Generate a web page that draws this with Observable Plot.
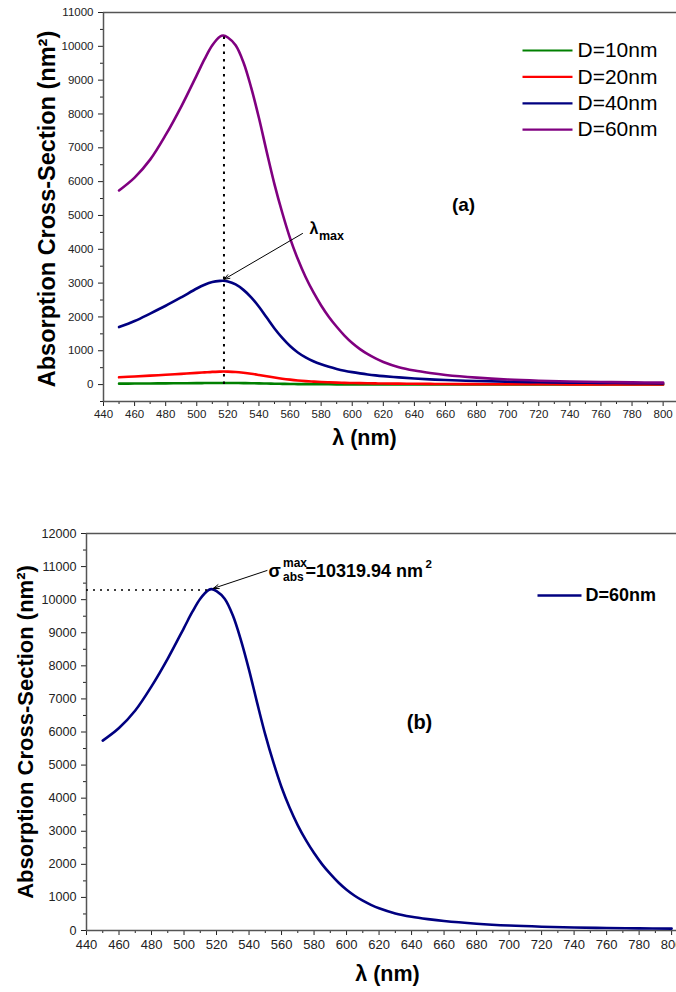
<!DOCTYPE html>
<html>
<head>
<meta charset="utf-8">
<script src="https://cdn.jsdelivr.net/npm/d3@7"></script>
<script src="https://cdn.jsdelivr.net/npm/@observablehq/plot@0.6"></script>
<style>
  body { margin: 0; background: #fff; }
  #chart { width: 676px; height: 992px; position: relative; }
  #chart svg { display: block; }
</style>
</head>
<body>
<div id="chart"></div>
<script>
// ---------- Data ----------
const lambda   = [450,460,470,480,490,500,505,510,515,517,520,525,530,535,540,545,550,555,560,565,570,575,580,585,590,595,600,605,610,615,620,630,640,650,660,680,700,720,740,760,780,800];
const sigmaD10 = [27,30,33,36,40,43,45,47,48,48,48,46,44,40,36,31,26,22,18,15,13,11,9.5,8.4,7.4,6.6,5.9,5.3,4.8,4.4,4,3.4,2.9,2.5,2.1,1.6,1.3,1.1,0.9,0.8,0.7,0.6];
const sigmaD20 = [215,240,265,290,318,345,360,375,383,385,382,370,348,320,285,248,210,175,146,122,103,88,76,67,59,52,47,42,38,35,32,27,23,20,17,13,11,9,7,6,5,5];
const sigmaD40 = [1700,1880,2100,2330,2580,2840,2950,3030,3065,3070,3050,2960,2800,2580,2300,1980,1660,1380,1140,950,805,690,600,525,462,410,368,332,300,273,250,212,180,155,135,105,85,70,58,50,43,37];
const sigmaD60 = [5740,6120,6650,7380,8220,9150,9620,10030,10290,10320,10260,10030,9530,8780,7880,6880,5920,5080,4330,3710,3180,2730,2340,2000,1710,1450,1230,1050,900,775,670,515,415,343,285,205,150,115,92,76,65,57];
const seriesNames = ["D=10nm","D=20nm","D=40nm","D=60nm"];
const seriesColors = ["#008000","#ff0000","#000080","#800080"];
const seriesValues = [sigmaD10, sigmaD20, sigmaD40, sigmaD60];
const xTicks = d3.range(440, 801, 20);
const yTicksA = d3.range(0, 11001, 1000);
const yTicksB = d3.range(0, 12001, 1000);
const lambdaMax = 517.5;          // position of the dotted line in (a)
const peakD40 = 3070;
const peakD60 = 10320;
const sigmaMaxText = "=10319.94 nm";

// ---------- Helpers ----------
const FONT = "'Liberation Sans', Arial, Helvetica, sans-serif";
const fmt = d3.format("d");
const rowsA = seriesNames.flatMap((name, i) => lambda.map((l, j) => ({lambda: l, sigma: seriesValues[i][j], series: name})));
const rowsB = lambda.map((l, j) => ({lambda: l, sigma: sigmaD60[j]}));

// panel geometry (pixel layout)
const A = {w: 676, h: 470, ml: 103, mr: 0, mt: 12, mb: 69, xd: [440, 808.6], yd: [-500, 11000]};
const B = {w: 676, h: 522, ml: 86, mr: 0, mt: 63, mb: 62, xd: [440, 803], yd: [0, 12000]};
const xA = d3.scaleLinear(A.xd, [A.ml, A.w - A.mr]);
const yA = d3.scaleLinear(A.yd, [A.h - A.mb, A.mt]);
const xB = d3.scaleLinear(B.xd, [B.ml, B.w - B.mr]);
const yB = d3.scaleLinear(B.yd, [B.h - B.mb, B.mt]);

const axisStroke = "#555";

// ---------- Panel (a) ----------
const legendA = seriesNames.map((name, i) => ({name, y: yA.invert(50 + 26.4 * i)}));
const plotA = Plot.plot({
  width: A.w, height: A.h,
  marginLeft: A.ml, marginRight: A.mr, marginTop: A.mt, marginBottom: A.mb,
  x: {domain: A.xd, label: null},
  y: {domain: A.yd, label: null},
  color: {domain: seriesNames, range: seriesColors},
  style: {fontFamily: FONT, fontSize: "11.5px", color: "#222", background: "#fff"},
  marks: [
    Plot.axisY(yTicksA, {tickSize: 5, tickPadding: 5, fontSize: 11.5, tickFormat: fmt, label: null}),
    Plot.axisY(d3.range(-500, 11001, 1000), {tickSize: 3, tickFormat: () => "", label: null}),
    Plot.axisX(xTicks, {tickSize: 5, tickPadding: 3, fontSize: 11.5, tickFormat: fmt, label: null}),
    Plot.axisX(d3.range(450, 801, 20), {tickSize: 3, tickFormat: () => "", label: null}),
    Plot.ruleX([A.xd[0]], {stroke: axisStroke, strokeWidth: 1.5}),
    Plot.ruleY([A.yd[0]], {stroke: axisStroke, strokeWidth: 1.5}),
    Plot.ruleY([A.yd[1]], {stroke: axisStroke, strokeWidth: 1.5}),
    Plot.line(rowsA, {x: "lambda", y: "sigma", z: "series", stroke: "series", strokeWidth: 2.6, curve: "catmull-rom"}),
    Plot.ruleX([lambdaMax], {y1: 0, y2: peakD60, stroke: "#000", strokeWidth: 2, strokeDasharray: "2.5,5"}),
    Plot.arrow([{x1: xA.invert(302), y1: yA.invert(233), x2: lambdaMax, y2: peakD40 + 40}], {x1: "x1", y1: "y1", x2: "x2", y2: "y2", stroke: "#000", strokeWidth: 1, headLength: 9, headAngle: 40}),
    Plot.text(["λ"], {x: xA.invert(309), y: yA.invert(228), textAnchor: "start", fontSize: 16, fontWeight: "bold", fill: "#000"}),
    Plot.text(["max"], {x: xA.invert(318.5), y: yA.invert(235), textAnchor: "start", fontSize: 12.5, fontWeight: "bold", fill: "#000"}),
    Plot.text(["(a)"], {x: xA.invert(463), y: yA.invert(204), fontSize: 19, fontWeight: "bold", fill: "#000"}),
    Plot.link(legendA, {x1: xA.invert(522), x2: xA.invert(572), y1: "y", y2: "y", stroke: "name", strokeWidth: 2.2}),
    Plot.text(legendA, {x: xA.invert(577), y: "y", text: "name", textAnchor: "start", fontSize: 21, fill: "#000"}),
    Plot.text(["Absorption Cross-Section (nm²)"], {frameAnchor: "left", textAnchor: "middle", rotate: -90, dx: -56, dy: 2, fontSize: 23.5, fontWeight: "bold", fill: "#000"}),
    Plot.text(["λ (nm)"], {frameAnchor: "bottom", textAnchor: "middle", dx: -25.5, dy: 43, fontSize: 21.5, fontWeight: "bold", fill: "#000"})
  ]
});

// ---------- Panel (b) ----------
const plotB = Plot.plot({
  width: B.w, height: B.h,
  marginLeft: B.ml, marginRight: B.mr, marginTop: B.mt, marginBottom: B.mb,
  x: {domain: B.xd, label: null},
  y: {domain: B.yd, label: null},
  style: {fontFamily: FONT, fontSize: "12.8px", color: "#222", background: "#fff"},
  marks: [
    Plot.axisY(yTicksB, {tickSize: 5, tickPadding: 5, fontSize: 12.6, tickFormat: fmt, label: null}),
    Plot.axisY(d3.range(500, 12001, 1000), {tickSize: 3, tickFormat: () => "", label: null}),
    Plot.axisX(xTicks, {tickSize: 5, tickPadding: 4, fontSize: 13, tickFormat: fmt, label: null}),
    Plot.axisX(d3.range(450, 801, 20), {tickSize: 3, tickFormat: () => "", label: null}),
    Plot.ruleX([B.xd[0]], {stroke: axisStroke, strokeWidth: 1.5}),
    Plot.ruleY([B.yd[0]], {stroke: axisStroke, strokeWidth: 1.5}),
    Plot.ruleY([B.yd[1]], {stroke: axisStroke, strokeWidth: 1.5}),
    Plot.line(rowsB, {x: "lambda", y: "sigma", stroke: "#000080", strokeWidth: 2.6, curve: "catmull-rom"}),
    Plot.ruleY([peakD60 - 30], {x1: B.xd[0], x2: 515, stroke: "#000", strokeWidth: 1.5, strokeDasharray: "2,5"}),
    Plot.arrow([{x1: xB.invert(266.5), y1: yB.invert(100), x2: 518, y2: peakD60 + 20}], {x1: "x1", y1: "y1", x2: "x2", y2: "y2", stroke: "#000", strokeWidth: 1, headLength: 9, headAngle: 40}),
    Plot.text(["σ"], {x: xB.invert(268), y: yB.invert(100.6), textAnchor: "start", fontSize: 18, fontWeight: "bold", fill: "#000"}),
    Plot.text(["max"], {x: xB.invert(282.5), y: yB.invert(93), textAnchor: "start", fontSize: 12, fontWeight: "bold", fill: "#000"}),
    Plot.text(["abs"], {x: xB.invert(282.5), y: yB.invert(106.5), textAnchor: "start", fontSize: 12, fontWeight: "bold", fill: "#000"}),
    Plot.text([sigmaMaxText], {x: xB.invert(305), y: yB.invert(100.6), textAnchor: "start", fontSize: 18, fontWeight: "bold", fill: "#000"}),
    Plot.text(["2"], {x: xB.invert(425), y: yB.invert(93.5), textAnchor: "start", fontSize: 11.5, fontWeight: "bold", fill: "#000"}),
    Plot.text(["(b)"], {x: xB.invert(419), y: yB.invert(252), fontSize: 20, fontWeight: "bold", fill: "#000"}),
    Plot.link([{y: yB.invert(125)}], {x1: xB.invert(537), x2: xB.invert(581), y1: "y", y2: "y", stroke: "#000080", strokeWidth: 2.4}),
    Plot.text(["D=60nm"], {x: xB.invert(585), y: yB.invert(125), textAnchor: "start", fontSize: 18, fontWeight: "bold", fill: "#000"}),
    Plot.text(["Absorption Cross-Section (nm²)"], {frameAnchor: "left", textAnchor: "middle", rotate: -90, dx: -61, dy: 0, fontSize: 22, fontWeight: "bold", fill: "#000"}),
    Plot.text(["λ (nm)"], {frameAnchor: "bottom", textAnchor: "middle", dx: 6, dy: 50, fontSize: 21.5, fontWeight: "bold", fill: "#000"})
  ]
});

const chart = document.getElementById("chart");
chart.appendChild(plotA);
chart.appendChild(plotB);
</script>
</body>
</html>
